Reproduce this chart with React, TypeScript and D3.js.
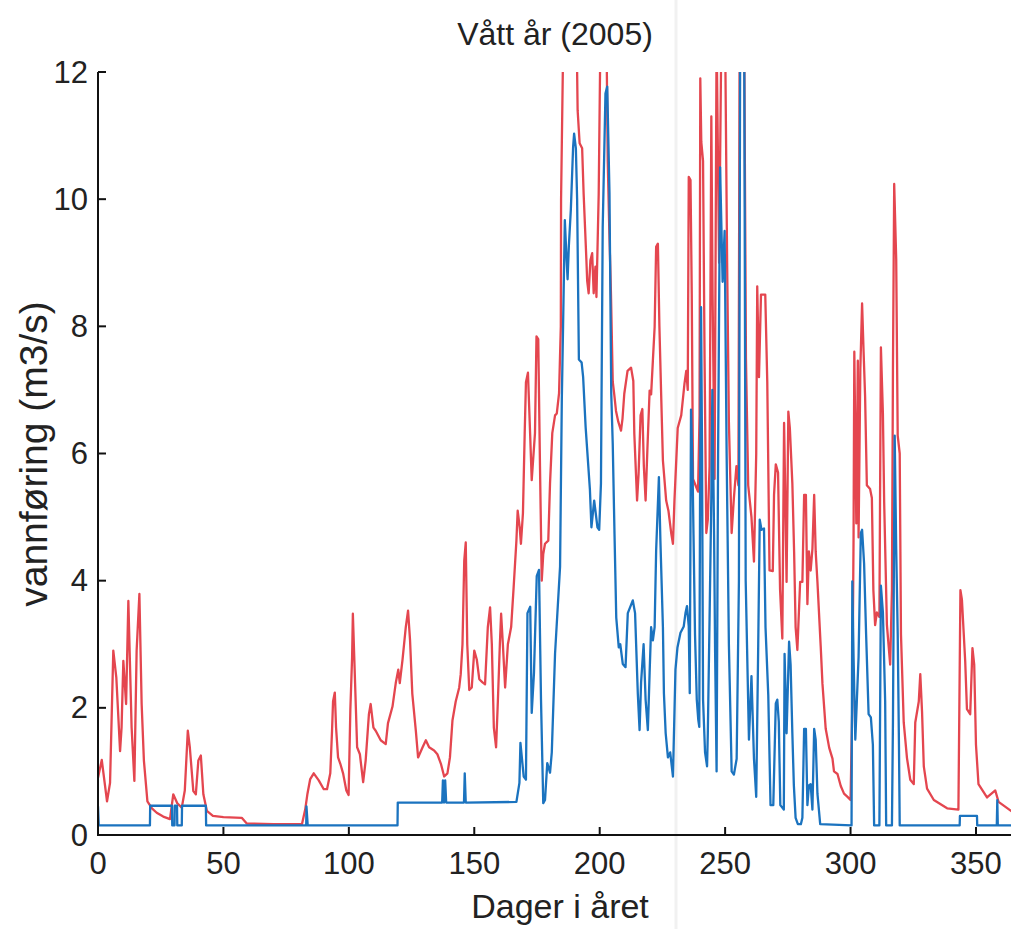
import React from "react";
import * as d3 from "d3";

// ---- data (day of year, discharge m3/s) ----
const redSeries: [number, number][] = [
  [0, 0.9], [1.5, 1.18], [3.6, 0.53], [4.8, 0.82], [6.1, 2.9], [7.3, 2.48], [8.8, 1.32], [9.4, 1.69],
  [10.1, 2.74], [11.2, 2.06], [12.1, 3.68], [13.4, 1.69], [14.5, 0.85], [15.4, 2.9], [16.5, 3.79],
  [17.4, 2.06], [18.3, 1.17], [19.7, 0.53], [21.5, 0.42], [23.4, 0.35], [26, 0.29], [28.7, 0.25],
  [30, 0.64], [31.6, 0.5], [33.4, 0.43], [34.6, 0.7], [35.8, 1.64], [36.6, 1.38], [38, 0.69], [39, 0.64],
  [40, 1.17], [41, 1.25], [42, 0.64], [43.4, 0.38], [45.8, 0.3], [50, 0.28], [57.3, 0.27], [59.3, 0.18],
  [70, 0.17], [81.3, 0.17], [82.6, 0.4], [83.5, 0.65], [84.6, 0.88], [86, 0.97], [88, 0.86], [90, 0.72],
  [91.3, 0.72], [92.6, 0.97], [93.3, 1.64], [93.7, 2.1], [94.4, 2.24], [94.9, 1.69], [95.7, 1.22],
  [96.6, 1.12], [97.7, 0.97], [99, 0.7], [99.9, 0.63], [100.6, 1.97], [101.3, 2.8], [101.6, 3.48],
  [102.2, 2.74], [103.3, 1.38], [104.4, 1.27], [105.7, 0.83], [106.7, 1.17], [108, 1.9], [108.7, 2.06],
  [109.8, 1.69], [110.7, 1.64], [112.7, 1.49], [114.7, 1.43], [115.6, 1.76], [117.4, 2.02], [118.7, 2.39],
  [119.7, 2.6], [120.3, 2.39], [121.4, 2.76], [122.7, 3.27], [123.6, 3.53], [124.4, 3.06], [125.3, 2.22],
  [126.7, 1.64], [127.6, 1.22], [129.4, 1.38], [130.7, 1.49], [132, 1.38], [134, 1.33], [135.3, 1.27],
  [136.7, 1.12], [138, 0.92], [139.3, 0.97], [140.3, 1.22], [141.3, 1.8], [142.6, 2.1], [144, 2.32],
  [144.6, 2.53], [145.3, 3.0], [146, 4.31], [146.6, 4.6], [147.2, 3.0], [148, 2.28], [149, 2.32],
  [150, 2.9], [151, 2.76], [152, 2.45], [153.3, 2.4], [154.3, 2.37], [155.4, 3.27], [156.3, 3.58],
  [157, 3.0], [157.8, 1.69], [158.7, 1.38], [159.4, 2.1], [160.2, 3.0], [160.7, 3.48], [161.4, 3.0],
  [162.3, 2.32], [163.4, 3.0], [164.7, 3.27], [165.7, 3.9], [166.8, 4.63], [167.3, 5.1], [168.1, 4.84],
  [168.6, 4.58], [169.4, 5.06], [170.1, 6.32], [170.6, 7.12], [171.4, 7.27], [172.3, 6.27], [172.9, 5.58],
  [174.2, 6.32], [174.8, 7.84], [175.5, 7.8], [176.2, 5.79], [176.9, 4.0], [177.5, 4.42], [178.2, 4.58],
  [179.5, 4.63], [180.2, 5.53], [181.1, 6.32], [182.2, 6.6], [182.9, 6.63], [183.8, 6.95], [184.5, 8.0],
  [184.6, 10], [185.5, 12.6], [190.8, 12.6], [191.2, 11.4], [192, 10.88], [193, 10.8], [193.6, 10.08],
  [194.7, 9.04], [195, 8.72], [195.6, 8.52], [196.3, 9.04], [197, 9.15], [197.6, 8.52], [198.3, 8.94],
  [198.7, 8.46], [199.6, 10.08], [200.3, 12.6], [202.7, 12.6], [203.2, 10.6], [203.8, 9.55], [204.5, 8.5],
  [205.2, 7.13], [205.8, 6.93], [206.5, 6.67], [207.4, 6.5], [208.5, 6.36], [209.1, 6.55], [209.8, 6.94],
  [211.1, 7.3], [212.5, 7.35], [213.4, 7.14], [213.8, 6.31], [214.9, 5.26], [215.5, 5.68], [216.3, 6.6],
  [217, 6.7], [217.6, 5.8], [218.3, 5.26], [219, 6.05], [219.9, 6.99], [220.5, 6.93], [221.2, 7.46],
  [221.9, 7.99], [222.5, 9.25], [223.2, 9.3], [223.8, 8.0], [224.5, 6.93], [225.2, 5.89], [226.5, 5.26],
  [227.4, 5.1], [228.5, 4.75], [229.2, 4.58], [229.8, 5.26], [231.1, 6.4], [232.5, 6.6], [233.8, 7.1],
  [234.5, 7.3], [235.1, 7.0], [235.5, 10.35], [236.2, 10.3], [236.7, 8.5], [237.2, 5.6], [238.2, 5.5],
  [239.2, 5.4], [239.8, 6.6], [240.1, 11.9], [240.5, 10.9], [241.2, 10.6], [241.8, 7.5], [242.5, 4.75],
  [243.1, 4.96], [243.8, 5.8], [244.5, 11.3], [245.0, 8.5], [245.8, 5.6], [246.6, 12.6], [247.6, 9.0],
  [248.5, 12.6], [250.0, 12.6], [250.8, 9.0], [251.5, 6.5], [252.6, 4.75], [253.5, 5.3], [254.5, 5.8],
  [255.3, 5.5], [255.8, 12.6], [257.6, 12.6], [258.3, 7.5], [259.2, 5.5], [260.5, 5.0], [261.5, 4.3],
  [262.4, 6.0], [262.8, 8.63], [263.5, 7.2], [264.3, 8.5], [266, 8.5], [266.8, 7.13], [267.7, 4.16],
  [269, 4.15], [269.5, 5.35], [270.2, 5.83], [271.1, 5.7], [271.9, 3.86], [272.8, 3.09], [273.5, 6.48],
  [274.1, 5.05], [274.5, 3.98], [275.2, 6.66], [275.8, 6.4], [276.8, 5.53], [277.5, 4.46], [278.1, 3.27],
  [278.8, 2.91], [279.9, 3.98], [280.8, 3.98], [281.5, 5.35], [282.2, 5.35], [282.8, 3.63], [283.4, 4.46],
  [284.1, 4.16], [284.8, 4.5], [285.5, 5.35], [286.1, 4.46], [286.8, 3.98], [288.1, 2.97], [288.8, 2.38],
  [290.1, 1.67], [291.5, 1.37], [292.8, 1.2], [293.4, 1.0], [294.8, 0.96], [296.1, 0.77], [297.4, 0.65],
  [298.8, 0.6], [300, 0.55], [300.7, 2.05], [301.2, 4.68], [301.5, 7.6], [302.3, 4.9], [302.9, 7.46],
  [303.2, 4.68], [303.9, 7.32], [304.6, 8.36], [305.2, 7.6], [305.8, 6.9], [306.5, 5.5], [307.8, 5.44],
  [308.5, 5.3], [309.1, 3.85], [309.8, 3.3], [310.5, 3.5], [311.5, 3.43], [312.1, 7.67], [312.9, 6.63],
  [313.4, 5.24], [314.5, 3.3], [315.8, 2.68], [316.5, 3.85], [316.9, 7.3], [317.4, 10.24], [318.2, 9.06],
  [318.8, 6.28], [319.6, 6.0], [320.1, 3.16], [321.2, 1.77], [322.5, 1.21], [323.8, 0.87], [325.2, 0.8],
  [325.8, 1.77], [327.2, 2.1], [327.8, 2.53], [328.5, 1.94], [329.2, 1.08], [330.5, 0.73], [333.2, 0.55],
  [338.5, 0.42], [343, 0.4], [343.8, 3.85], [344.4, 3.7], [345.7, 2.74], [346.4, 1.98], [347.7, 1.9],
  [348.6, 2.94], [349.3, 2.68], [350, 1.42], [351, 0.8], [354.4, 0.59], [357.7, 0.7], [359, 0.52],
  [365, 0.35],
];

const blueSeries: [number, number][] = [
  [0, 0.45], [0.3, 0.15], [20.7, 0.15], [20.8, 0.46], [29.5, 0.46], [29.6, 0.15], [30.5, 0.15],
  [30.6, 0.46], [31.5, 0.46], [31.6, 0.15], [33.4, 0.15], [33.5, 0.46], [43, 0.46], [43.1, 0.15],
  [83, 0.15], [83.1, 0.45], [83.6, 0.15], [119.4, 0.15], [119.5, 0.51], [137.2, 0.51], [137.5, 0.86],
  [137.9, 0.51], [138.4, 0.86], [138.8, 0.51], [145.9, 0.51], [146.2, 0.97], [146.6, 0.51],
  [166.8, 0.52], [168, 0.82], [168.4, 1.45], [169.7, 0.92], [170.6, 0.87], [171.2, 3.49], [172.3, 3.59],
  [172.9, 1.92], [173.8, 2.55], [174.9, 4.07], [175.8, 4.17], [176.6, 2.13], [177.5, 0.5], [178.2, 0.55],
  [179.1, 1.13], [180.2, 0.98], [180.9, 1.3], [182.2, 2.85], [184.2, 4.22], [184.9, 6.85], [185.4, 8.0],
  [186.1, 9.67], [186.8, 9.05], [187.2, 8.74], [187.7, 9.26], [188.5, 9.84], [189.4, 10.82],
  [189.8, 11.03], [190.5, 10.8], [191, 10.0], [191.7, 7.48], [192.8, 7.43], [193.4, 7.2], [194.4, 6.41],
  [196.1, 5.43], [196.7, 4.84], [197.8, 5.26], [199.1, 4.84], [199.8, 4.8], [200.5, 5.53], [201.2, 9.56],
  [202.3, 11.66], [203, 11.77], [203.9, 10.1], [204.6, 6.95], [205.2, 6.15], [205.9, 4.74], [206.6, 3.42],
  [207.6, 2.95], [208.2, 3.0], [209.2, 2.69], [210.3, 2.64], [211.2, 3.49], [213.2, 3.69], [214.1, 3.49],
  [215.2, 2.22], [215.9, 1.65], [216.5, 2.4], [217.5, 3.0], [218.3, 2.13], [219.2, 1.65], [219.9, 2.55],
  [220.5, 3.27], [221.2, 3.06], [221.9, 3.27], [222.5, 4.47], [223.6, 5.63], [224.2, 4.63], [225.2, 3.27],
  [225.6, 2.23], [226.3, 1.6], [227.2, 1.22], [228.1, 1.3], [229.2, 0.92], [230.2, 2.6], [231, 2.95],
  [232.2, 3.18], [233.5, 3.28], [234.2, 3.49], [234.8, 3.6], [235.5, 3.28], [235.9, 2.23], [236.4, 6.69],
  [237.0, 5.77], [237.4, 4.72], [238.0, 3.15], [238.7, 2.13], [239.3, 1.81], [239.7, 1.7], [240.0, 5.28],
  [240.4, 8.3], [240.8, 6.0], [241.2, 2.13], [242.0, 1.3], [242.8, 1.08], [243.1, 1.6], [243.8, 3.4],
  [244.5, 5.3], [244.9, 7.0], [245.6, 4.72], [246.0, 2.9], [246.6, 1.0], [247.2, 6.0], [248.0, 10.5],
  [249.0, 8.7], [249.8, 9.5], [250.6, 6.0], [251.5, 3.0], [252.6, 1.0], [253.5, 0.95], [254.6, 1.2],
  [255.5, 4.0], [256.0, 12.6], [257.6, 12.6], [258.2, 4.0], [259.5, 1.5], [260.5, 2.5], [261.5, 1.2],
  [262.4, 0.6], [263.2, 3.0], [263.8, 4.96], [264.5, 4.8], [265.5, 4.82], [266.1, 3.27], [267.2, 2.2],
  [268.1, 0.47], [269.2, 0.47], [270.2, 2.07], [270.8, 2.13], [271.4, 1.78], [272, 0.47], [273.4, 0.4],
  [273.7, 2.85], [274.5, 1.6], [275.5, 3.04], [276.1, 2.68], [276.8, 1.6], [277.4, 0.78], [278.1, 0.27],
  [279, 0.17], [280.2, 0.17], [280.8, 0.27], [281.5, 1.67], [282.2, 1.67], [282.8, 0.47], [283.4, 0.78],
  [284.1, 0.8], [284.8, 0.4], [285.5, 1.67], [286.1, 1.5], [286.8, 0.65], [287.9, 0.17], [300.4, 0.15],
  [300.7, 3.99], [301.2, 2.8], [301.9, 1.5], [302.5, 2.1], [303.2, 2.8], [304.1, 4.75], [304.6, 4.8],
  [305.4, 4.27], [306.2, 3.16], [307.2, 1.9], [308.1, 1.85], [308.9, 1.42], [309.4, 0.15], [311.5, 0.15],
  [312.1, 3.92], [312.9, 3.5], [313.8, 2.1], [314.2, 0.15], [316.5, 0.15], [316.9, 1.77], [317.6, 6.28],
  [318.2, 4.5], [318.8, 3.16], [319.3, 1.42], [319.6, 0.15], [343.5, 0.15], [343.6, 0.3], [350.4, 0.3],
  [350.5, 0.15], [358.3, 0.15], [358.5, 0.55], [358.7, 0.15], [365, 0.15],
];

const yTicks = [0, 2, 4, 6, 8, 10, 12];
const xTicks = [0, 50, 100, 150, 200, 250, 300, 350];
const titleText = "Vått år (2005)";
const xLabelText = "Dager i året";
const yLabelText = "vannføring (m3/s)";

const W = 1011;
const H = 929;
const FONT = "'Liberation Sans', Arial, Helvetica, sans-serif";

export default function App() {
  const x = d3.scaleLinear().domain([0, 365]).range([98, 1013.6]);
  const y = d3.scaleLinear().domain([0, 12]).range([835, 72]);
  const line = d3
    .line<[number, number]>()
    .x((d) => x(d[0]))
    .y((d) => y(d[1]));

  const [x0, x1] = x.range();
  const [y0, y1] = y.range();

  return (
    <svg
      width={W}
      height={H}
      style={{ position: "absolute", left: 0, top: 0, background: "#fff" }}
      fontFamily={FONT}
    >
      <defs>
        <clipPath id="plotClip">
          <rect x={x0} y={y1} width={x1 - x0 + 5} height={y0 - y1 + 2} />
        </clipPath>
      </defs>
      <rect x={0} y={0} width={W} height={H} fill="#fff" />
      {/* faint scan seam */}
      <line x1={676} x2={676} y1={0} y2={H} stroke="#f1f1f1" strokeWidth={3} />

      <g clipPath="url(#plotClip)">
        <path d={line(redSeries) || ""} fill="none" stroke="#e4464f" strokeWidth={2.3} strokeLinejoin="round" />
        <path d={line(blueSeries) || ""} fill="none" stroke="#1b73bf" strokeWidth={2.3} strokeLinejoin="round" />
      </g>

      {/* axes */}
      <line x1={x0} x2={x0} y1={y1} y2={y0 + 1} stroke="#111" strokeWidth={2} />
      <line x1={x0 - 1} x2={W} y1={y0} y2={y0} stroke="#111" strokeWidth={2} />
      {yTicks.map((t) => (
        <g key={"y" + t}>
          <line x1={x0} x2={x0 + 8} y1={y(t)} y2={y(t)} stroke="#111" strokeWidth={2} />
          <text
            x={x0 - 10}
            y={y(t)}
            textAnchor="end"
            dominantBaseline="central"
            fontSize={31}
            fill="#222"
          >
            {t}
          </text>
        </g>
      ))}
      {xTicks.map((t) => (
        <g key={"x" + t}>
          <line x1={x(t)} x2={x(t)} y1={y0} y2={y0 - 8} stroke="#111" strokeWidth={2} />
          <text x={x(t)} y={874} textAnchor="middle" fontSize={31} fill="#222">
            {t}
          </text>
        </g>
      ))}

      <text x={555} y={45} textAnchor="middle" fontSize={32} fill="#222">
        {titleText}
      </text>
      <text x={560} y={918} textAnchor="middle" fontSize={34} fill="#222">
        {xLabelText}
      </text>
      <text
        transform={`translate(47, 454) rotate(-90)`}
        textAnchor="middle"
        fontSize={39}
        fill="#222"
      >
        {yLabelText}
      </text>
    </svg>
  );
}
